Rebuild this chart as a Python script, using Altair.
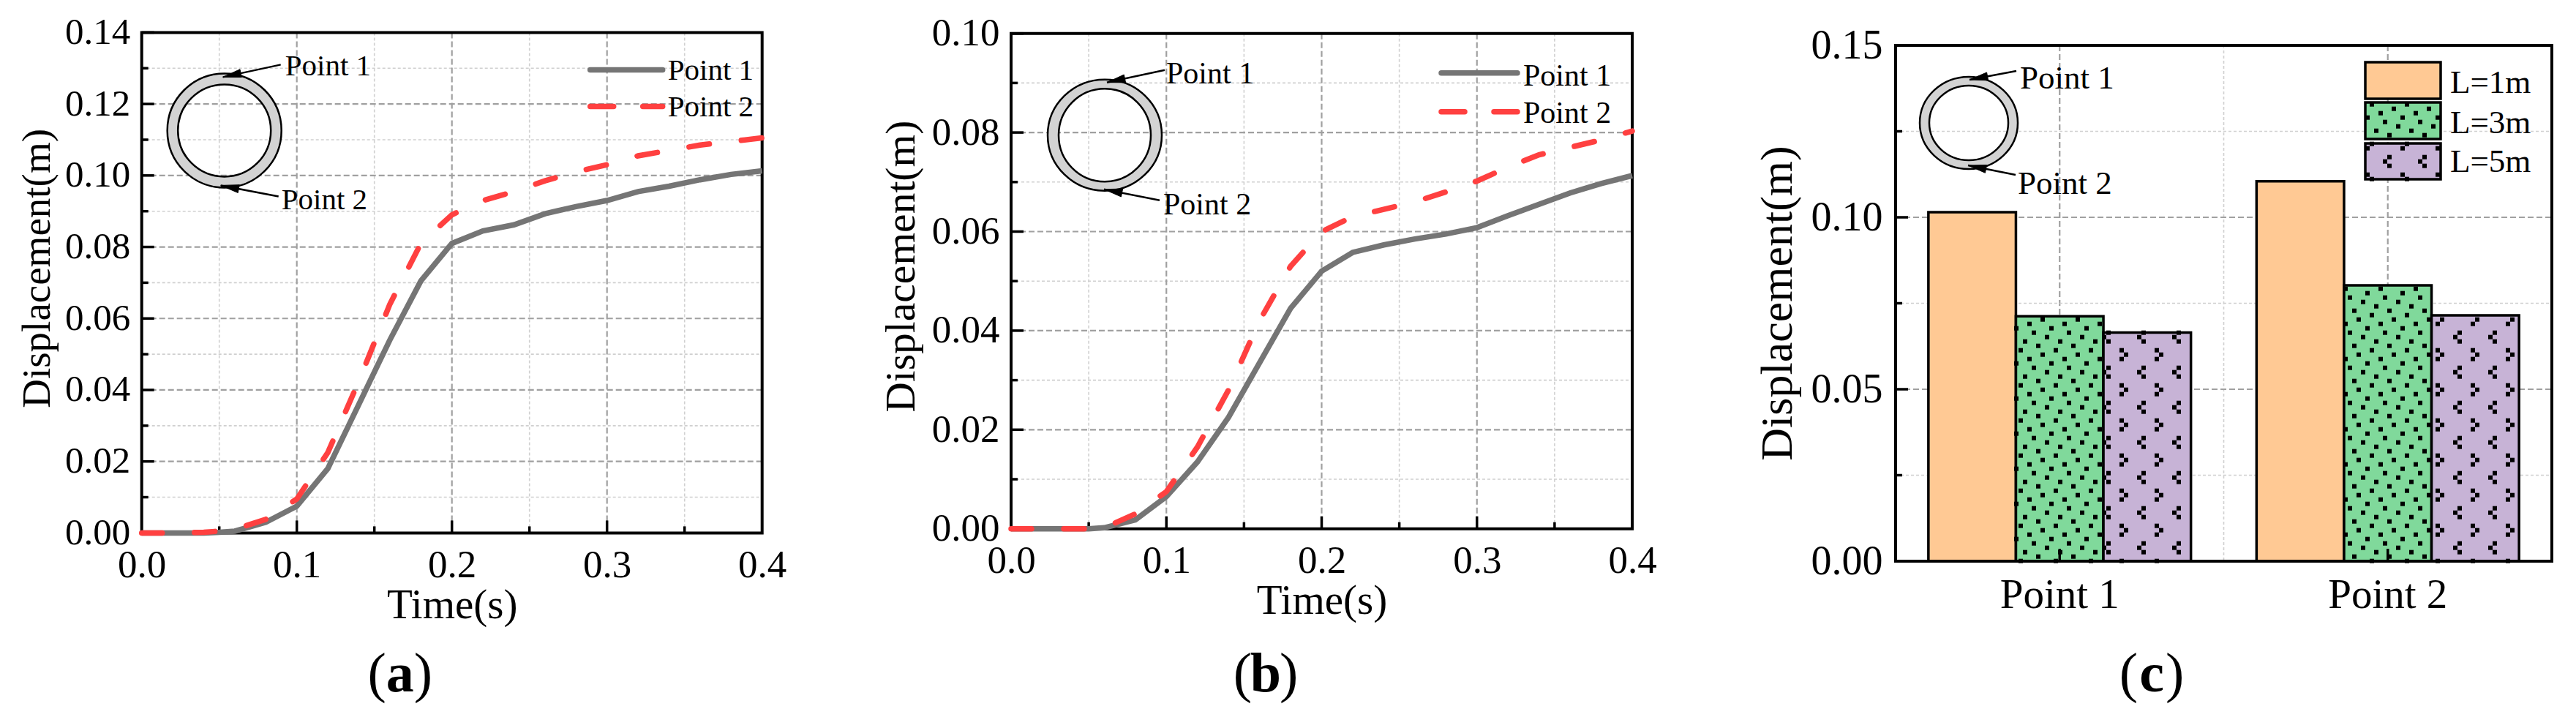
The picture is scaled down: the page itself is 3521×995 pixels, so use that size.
import altair as alt
import numpy as np
import pandas as pd

FONT = "Liberation Serif"
GREY, RED = "#757575", "#ff4040"
DASH = [28, 44]
T = [0, .02, .04, .05, .06, .08, .1, .12, .14, .16, .18, .2, .22, .24, .26, .28, .3, .32, .34, .36, .38, .4]
A1 = [0, 0, 0, .0002, .0005, .003, .0075, .018, .036, .054, .0705, .081, .0845, .0862, .0893, .0913, .093, .0955, .097, .0988, .1003, .1013]
A2 = [0, 0, .0002, .0005, .001, .0038, .0095, .0225, .0425, .064, .081, .089, .093, .0955, .0985, .101, .103, .1055, .107, .1085, .1095, .1105]
B1 = [0, 0, 0, 0, .0002, .0018, .0065, .0135, .0225, .0335, .0445, .052, .0558, .0573, .0585, .0595, .0608, .0632, .0655, .0678, .0697, .0713]
B2 = [0, 0, 0, 0, .0002, .003, .0075, .0165, .028, .042, .053, .06, .063, .0645, .066, .068, .0702, .073, .0755, .077, .0785, .0803]
POINTS = ["Point 1", "Point 2"]
LENGTHS = ["L=1m", "L=3m", "L=5m"]
BAR_P1 = [.1015, .0712, .0665]
BAR_P2 = [.1105, .0802, .0715]
BAR_COL = ["#ffc994", "#80d99b", "#c7b3d6"]
ONE = pd.DataFrame({"a": [0]})
CELL_H = 975


class P:
    """Pixel helper: positions given relative to the panel's plot corner."""
    def __init__(self, ox, oy, w, h):
        self.ox, self.oy, self.w, self.h = ox, oy, w, h

    def x(self, a):
        return alt.value(self.ox + a)

    def y(self, a):
        return alt.value(self.oy + a)

    def text(self, s, x, y, size, align="left", weight="normal"):
        return alt.Chart(ONE).mark_text(text=s, font=FONT, fontSize=size, align=align, baseline="alphabetic",
                                        fontWeight=weight, color="black").encode(x=self.x(x), y=self.y(y))

    def ring(self, cx, cy, rx, ry, ix, iy):
        R = max(rx, ry)
        a, b, c, d = rx / R, ry / R, ix / R, iy / R
        path = (f"M {-a},0 A {a},{b} 0 1 1 {a},0 A {a},{b} 0 1 1 {-a},0 Z "
                f"M {-c},0 A {c},{d} 0 1 0 {c},0 A {c},{d} 0 1 0 {-c},0 Z")
        return alt.Chart(ONE).mark_point(shape=path, filled=True, fill="#d3d3d3", stroke="black", strokeWidth=2.5,
                                         opacity=1, size=(2 * R) ** 2).encode(x=self.x(cx), y=self.y(cy))

    def arrow(self, tx, ty, hx, hy):
        r = float(np.arctan2(ty - hy, tx - hx))
        rule = alt.Chart(ONE).mark_rule(color="black", strokeWidth=2.5).encode(
            x=self.x(tx), x2=self.x(hx), y=self.y(ty), y2=self.y(hy))
        L, W = 25, 5.5
        ca, sa = np.cos(r), np.sin(r)
        xy = [(p * ca - q * sa, p * sa + q * ca) for p, q in [(0, 0), (L, W), (L, -W)]]
        path = "M " + " L ".join(f"{p / 30:.4f},{q / 30:.4f}" for p, q in xy) + " Z"
        head = alt.Chart(ONE).mark_point(shape=path, filled=True, fill="black", stroke="black", strokeWidth=1, opacity=1,
                                         size=3600).encode(x=self.x(hx), y=self.y(hy))
        return [rule, head]

    def vgrid(self, vals, major, scale):
        return alt.Chart(pd.DataFrame({"g": vals})).mark_rule(**grid_style(major)).encode(
            x=alt.X("g:Q", scale=scale, axis=None), y=self.y(0), y2=self.y(self.h))

    def hgrid(self, vals, major, scale):
        return alt.Chart(pd.DataFrame({"g": vals})).mark_rule(**grid_style(major)).encode(
            y=alt.Y("g:Q", scale=scale, axis=None), x=self.x(0), x2=self.x(self.w))

    def yticks(self, vals, ln, scale):
        return alt.Chart(pd.DataFrame({"g": vals})).mark_rule(color="black", strokeWidth=3.5).encode(
            y=alt.Y("g:Q", scale=scale, axis=None), x=self.x(0), x2=self.x(ln))

    def xticks(self, vals, ln, scale):
        return alt.Chart(pd.DataFrame({"g": vals})).mark_rule(color="black", strokeWidth=3.5).encode(
            x=alt.X("g:Q", scale=scale, axis=None), y=self.y(self.h), y2=self.y(self.h - ln))

    def frame(self):
        return alt.Chart(ONE).mark_rect(fillOpacity=0, stroke="black", strokeWidth=4).encode(
            x=self.x(0), x2=self.x(self.w), y=self.y(0), y2=self.y(self.h))

    def caption(self, letter, cx, cy):
        return [self.text("(", cx - 19, cy, 76, "right"), self.text(letter, cx, cy, 76, "center", "bold"),
                self.text(")", cx + 19, cy, 76, "left")]


def grid_style(major):
    if major:
        return dict(color="#a0a0a0", strokeWidth=2.2, strokeDash=[8, 4])
    return dict(color="#d0d0d0", strokeWidth=1.6, strokeDash=[4, 3])


def line_panel(p, cell_w, ymax, ymaj, ymin, s1, s2, lab, xlab, ytitle, yt, rg, arrows, notes, leg, nsize, caption, capx, capy):
    xs = alt.Scale(domain=[0, .4], nice=False, zero=False, range=[p.ox, p.ox + p.w])
    ys = alt.Scale(domain=[0, ymax], nice=False, range=[p.oy + p.h, p.oy])
    df = pd.DataFrame({"t": T * 2, "d": s1 + s2, "s": ["Point 1"] * len(T) + ["Point 2"] * len(T)})
    xmaj, xmin = [.1, .2, .3], [.05, .15, .25, .35]
    xaxis = alt.Axis(values=[0, .1, .2, .3, .4], format=".1f", ticks=False, domain=False, grid=False, labelFont=FONT,
                     labelFontSize=xlab, labelColor="black", labelPadding=18, labelOverlap=False, labelFlush=False,
                     offset=p.oy + p.h - CELL_H,
                     title="Time(s)", titleFont=FONT, titleFontSize=57, titleFontWeight="normal", titleColor="black",
                     titleX=p.ox + p.w / 2, titleY=116, titleBaseline="alphabetic", titleAlign="center")
    yaxis = alt.Axis(values=ymaj, format=".2f", ticks=False, domain=False, grid=False, labelFont=FONT, labelFontSize=lab,
                     labelColor="black", labelPadding=16, labelOverlap=False, labelFlush=False, offset=-p.ox,
                     title="Displacement(m)", titleFont=FONT, titleFontSize=ytitle, titleFontWeight="normal", titleColor="black",
                     titleX=yt[0], titleY=p.oy + yt[1], titleBaseline="alphabetic", titleAlign="center", titleAngle=270)
    base = alt.Chart(df).mark_point(opacity=0).encode(x=alt.X("t:Q", scale=xs, axis=xaxis), y=alt.Y("d:Q", scale=ys, axis=yaxis))
    layers = [base, p.vgrid(xmin, False, xs), p.hgrid(ymin, False, ys), p.vgrid(xmaj, True, xs), p.hgrid(ymaj[1:-1], True, ys),
              p.yticks(ymaj, 17, ys), p.yticks(ymin, 9, ys), p.xticks(xmaj, 17, xs), p.xticks(xmin, 9, xs), p.frame(), p.ring(*rg)]
    for a_ in arrows:
        layers += p.arrow(*a_)
    for s, x, y in notes:
        layers.append(p.text(s, x, y, nsize))
    layers.append(alt.Chart(df[df.s == "Point 1"]).mark_line(color=GREY, strokeWidth=7.5).encode(
        x=alt.X("t:Q", scale=xs, axis=None), y=alt.Y("d:Q", scale=ys, axis=None)))
    layers.append(alt.Chart(df[df.s == "Point 2"]).mark_line(color=RED, strokeWidth=7.5, strokeDash=DASH, strokeCap="round").encode(
        x=alt.X("t:Q", scale=xs, axis=None), y=alt.Y("d:Q", scale=ys, axis=None)))
    lx0, lx1, ly1, ly2, tx, b1, b2 = leg
    layers.append(alt.Chart(ONE).mark_rule(color=GREY, strokeWidth=7.5, strokeCap="round").encode(x=p.x(lx0), x2=p.x(lx1), y=p.y(ly1)))
    layers.append(alt.Chart(ONE).mark_rule(color=RED, strokeWidth=7.5, strokeCap="round", strokeDash=[32, 40]).encode(x=p.x(lx0), x2=p.x(lx1), y=p.y(ly2)))
    layers.append(p.text("Point 1", tx, b1, nsize))
    layers.append(p.text("Point 2", tx, b2, nsize))
    layers += p.caption(caption, capx, capy)
    return alt.layer(*layers).resolve_axis(x="independent", y="independent").properties(width=cell_w, height=CELL_H)


def dots(kind, x0, x1, y0, y1):
    rows = []
    if kind == 1:
        base = [(42, 0), (24, 6), (54, 12), (30, 18), (48, 24), (18, 30), (36, 36), (12, 42)]
        ox, oy = 15, 38.7
    else:
        base = [(6, 0), (0, 6), (6, 12), (-24, -24), (-18, -18), (-24, -12)]
        ox, oy = 45, 8.7
    for j in range(-2, 18):
        for i in range(-2, 22):
            for a_, b_ in base:
                rows.append((48 * i + a_ + ox, 48 * j + b_ + oy))
    df = pd.DataFrame(rows, columns=["px", "py"])
    return df[(df.px > x0) & (df.px < x1) & (df.py > y0) & (df.py < y1)]


def bar_panel(p, cell_w):
    w, h = p.w, p.h
    ys = alt.Scale(domain=[0, .15], nice=False, range=[p.oy + h, p.oy])
    xs = alt.Scale(domain=POINTS, paddingInner=.2, paddingOuter=.1, range=[p.ox, p.ox + w])
    off = alt.Scale(domain=LENGTHS, paddingInner=0, paddingOuter=0)
    col = alt.Scale(domain=LENGTHS, range=BAR_COL)
    df = pd.DataFrame([{"p": a, "L": l, "d": d} for a, vals in zip(POINTS, (BAR_P1, BAR_P2)) for l, d in zip(LENGTHS, vals)])
    xaxis = alt.Axis(labelAngle=0, ticks=False, domain=False, grid=False, labelFont=FONT, labelFontSize=57, labelColor="black",
                     labelPadding=18, title=None, offset=p.oy + h - CELL_H)
    yaxis = alt.Axis(values=[0, .05, .1, .15], format=".2f", ticks=False, domain=False, grid=False, labelFont=FONT, labelFontSize=56,
                     labelColor="black", labelPadding=18, labelOverlap=False, labelFlush=False, offset=-p.ox, title="Displacement(m)",
                     titleFont=FONT, titleFontSize=62, titleFontWeight="normal", titleColor="black", titleX=-143, titleY=p.oy + 352,
                     titleBaseline="alphabetic", titleAlign="center", titleAngle=270)
    cats = pd.DataFrame({"p": POINTS})
    layers = [
        alt.Chart(ONE).mark_rule(**grid_style(False)).encode(x=p.x(w / 2), y=p.y(0), y2=p.y(h)),
        alt.Chart(cats).mark_rule(**grid_style(True)).encode(x=alt.X("p:N", scale=xs, axis=xaxis), y=p.y(0), y2=p.y(h)),
        p.hgrid([.025, .075, .125], False, ys), p.hgrid([.05, .1], True, ys),
        p.yticks([.05, .1], 17, ys), p.yticks([.025, .075, .125], 9, ys),
        alt.Chart(df).mark_bar(stroke="black", strokeWidth=3.5, opacity=1).encode(
            x=alt.X("p:N", scale=xs, axis=None), xOffset=alt.XOffset("L:N", scale=off),
            y=alt.Y("d:Q", scale=ys, axis=yaxis), fill=alt.Fill("L:N", scale=col, legend=None)),
    ]
    bw = w * .4 / 3
    frames = []
    for gi, vals in enumerate((BAR_P1, BAR_P2)):
        for li, d in enumerate(vals):
            if li:
                x0 = w * .05 + gi * w / 2 + li * bw
                frames.append(dots(li, x0, x0 + bw, h * (1 - d / .15), h))
    leg_x0, leg_x1 = 642, 745
    sw = [(23, 73), (78, 128), (134, 183)]
    for i, (y0, y1) in enumerate(sw):
        layers.append(alt.Chart(ONE).mark_rect(fill=BAR_COL[i], stroke="black", strokeWidth=3.5).encode(
            x=p.x(leg_x0), x2=p.x(leg_x1), y=p.y(y0), y2=p.y(y1)))
        if i:
            frames.append(dots(i, leg_x0, leg_x1, y0, y1))
        layers.append(p.text(LENGTHS[i], 758, y1 - 10 + [2, 2, 0][i], 45))
    pts = pd.concat(frames)
    pts = pts.assign(px=pts.px + p.ox, py=pts.py + p.oy)
    layers.append(alt.Chart(pts).mark_square(size=36, color="black", opacity=1).encode(
        x=alt.X("px:Q", scale=None, axis=None), y=alt.Y("py:Q", scale=None, axis=None)))
    layers.append(alt.Chart(cats).mark_rule(color="black", strokeWidth=3.5).encode(
        x=alt.X("p:N", scale=xs, axis=None), y=p.y(h), y2=p.y(h - 17)))
    layers.append(p.frame())
    layers.append(p.ring(100, 106, 67, 63, 54, 51))
    layers += p.arrow(165, 35, 101, 47) + p.arrow(164, 177, 99, 164)
    layers.append(p.text("Point 1", 170, 58.5, 45))
    layers.append(p.text("Point 2", 167, 203, 45))
    layers += p.caption("c", 350, 883)
    return alt.layer(*layers).resolve_axis(x="independent", y="independent").properties(width=cell_w, height=CELL_H)


pa = line_panel(P(185.7, 36.4, 848, 684), 1162, .14, [0, .02, .04, .06, .08, .1, .12, .14], [.01, .03, .05, .07, .09, .11, .13], A1, A2, 51, 53, 55,
                (-126, 322), (113, 134, 78, 78, 63.5, 63),
                [(190, 44, 111, 61), (187, 224, 108, 209)],
                [("Point 1", 196, 59), ("Point 2", 191, 242)],
                (613, 712, 51, 101, 719, 65, 115), 41, "a", 353, 901)
pb = line_panel(P(212, 37.7, 849, 677), 1201, .1, [0, .02, .04, .06, .08, .1], [.01, .03, .05, .07, .09], B1, B2, 53, 53, 57.5,
                (-133, 318), (128, 139, 78, 76, 63, 63.5),
                [(210, 50, 131, 67), (203, 228, 127, 213)],
                [("Point 1", 212, 68), ("Point 2", 208, 247)],
                (588, 692, 54, 107, 700, 71, 122), 42, "b", 348, 899)
pc = bar_panel(P(220, 54, 897, 705), 1142)

chart = alt.hconcat(pa, pb, pc, spacing=0, bounds="flush").properties(padding=0, background="white")
chart = chart.configure_view(stroke=None)
chart.save("out.html", embed_options={"renderer": "svg", "actions": False})
